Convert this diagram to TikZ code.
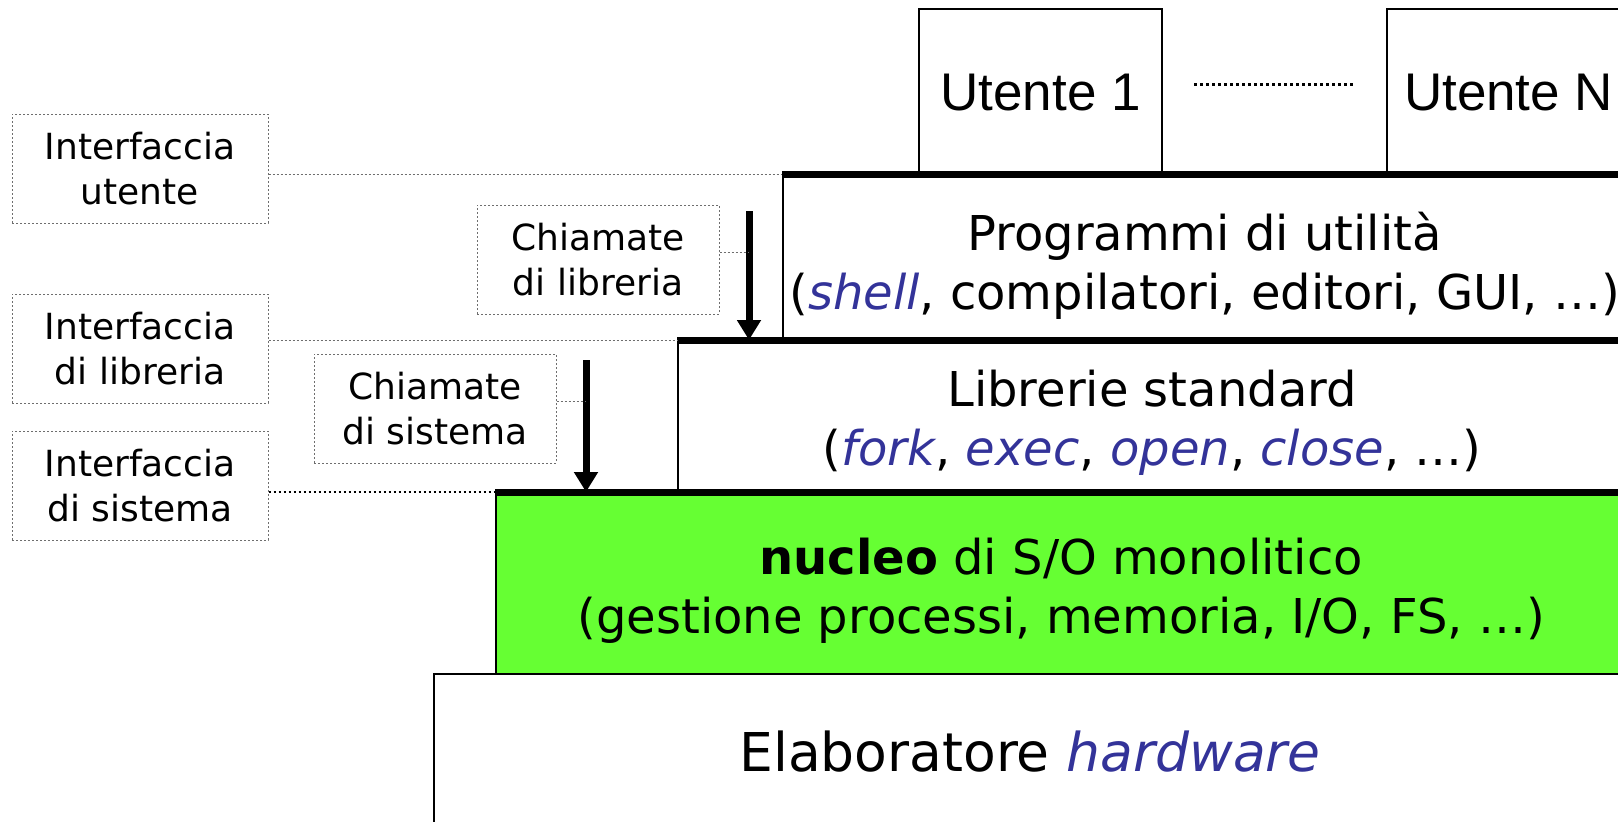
\documentclass[tikz,border=0pt]{standalone}
\usepackage{fontspec}
\setmainfont{DejaVu Sans}
\newfontfamily\userfont{Liberation Sans}
\usetikzlibrary{arrows.meta}
\definecolor{kernelcol}{RGB}{102, 255, 51}
\definecolor{termcol}{RGB}{51, 51, 153}
\definecolor{notecol}{RGB}{110, 110, 110}
\newcommand{\term}[1]{\textcolor{termcol}{\itshape #1}}
\tikzset{
  tier/.style    = {draw=black, line width=2.2pt, anchor=north west,
                    align=center, inner sep=0pt,
                    font=\fontsize{48}{59}\selectfont},
  tiertext/.style = {align=center, inner sep=0pt,
                     font=\fontsize{48}{59}\selectfont},
  user/.style    = {tier, minimum width=243pt, minimum height=166pt,
                    font=\userfont\fontsize{53}{60}\selectfont},
  topedge/.style = {line width=7pt},
  note/.style    = {draw=notecol, line width=1pt, dash pattern=on 2pt off 2pt,
                    align=center, inner sep=0pt, minimum height=109pt,
                    font=\fontsize{36}{45}\selectfont},
  leader/.style  = {draw=notecol, line width=1pt, dash pattern=on 2pt off 2pt},
  sysleader/.style = {draw=black, line width=2.5pt,
                      dash pattern=on 2.5pt off 2.5pt},
  call/.style    = {line width=7pt, -{Triangle[length=20pt, width=23pt]}},
  etc/.style     = {line width=3pt, dash pattern=on 3pt off 3pt},
}
\begin{document}
\begin{tikzpicture}[x=1pt, y=-1pt]
  \clip (0,0) rectangle (1618,822);

  %% ---------------- the layers, bottom up ----------------
  \node[tier, minimum width=1192pt, minimum height=154pt,
        font=\fontsize{53.5}{60}\selectfont] (hw) at (433,673)
       {Elaboratore \term{hardware}};
  \node[tier, fill=kernelcol, minimum width=1130pt, minimum height=181pt]
       (kern) at (495,492) {};
  \node[tier, minimum width=948pt, minimum height=152pt] (lib) at (677,340) {};
  \node[tier, minimum width=843pt, minimum height=166pt] (prog) at (782,174) {};

  % two-line captions sit a little below the middle
  \node[tiertext] (kerntxt) at ([yshift=-7pt]kern.center)
       {\textbf{nucleo} di S/O monolitico\\(gestione processi, memoria, I/O, FS, …)};
  \node[tiertext] (libtxt) at ([yshift=-6pt]lib.center)
       {Librerie standard\\(\term{fork}, \term{exec}, \term{open}, \term{close}, …)};
  \node[tiertext] (progtxt) at ([yshift=-8pt]prog.center)
       {Programmi di utilità\\(\term{shell}, compilatori, editori, GUI, …)};

  \node[user] (u1) at (918,8)  {Utente 1};
  \node[user] (un) at (1386,8) {Utente N};
  \draw[etc] ([xshift=31pt, yshift=8pt]u1.east) -- ([xshift=-32pt, yshift=8pt]un.west);

  % the interfaces sit on the top edge of each layer
  \foreach \l in {prog, lib, kern}
    \draw[topedge] (\l.north west) -- (\l.north east);

  %% ---------------- side notes ----------------
  \node[note, minimum width=256pt] (iu) at (140,168.5) {Interfaccia\\utente};
  \node[note, minimum width=256pt] (il) at (140,348.5) {Interfaccia\\di libreria};
  \node[note, minimum width=256pt] (is) at (140,485.5) {Interfaccia\\di sistema};
  \node[note, minimum width=242pt] (cl) at (598,259.5) {Chiamate\\di libreria};
  \node[note, minimum width=242pt] (cs) at (435,408.5) {Chiamate\\di sistema};

  \draw[leader] (iu.east |- prog.north west) -- (prog.north west);
  \draw[leader] (il.east |- lib.north west) -- (lib.north west);
  \draw[sysleader] (is.east |- kern.north west) -- (kern.north west);

  %% ---------------- the calls ----------------
  \coordinate (cltop) at (749,211);
  \coordinate (cstop) at (586,360);
  \draw[call] (cltop) -- (cltop |- lib.north);
  \draw[call] (cstop) -- (cstop |- kern.north);
  \draw[leader] ([yshift=7pt]cl.east) -- ([yshift=7pt]cl.east -| cltop);
  \draw[leader] ([yshift=7pt]cs.east) -- ([yshift=7pt]cs.east -| cstop);
\end{tikzpicture}
\end{document}
